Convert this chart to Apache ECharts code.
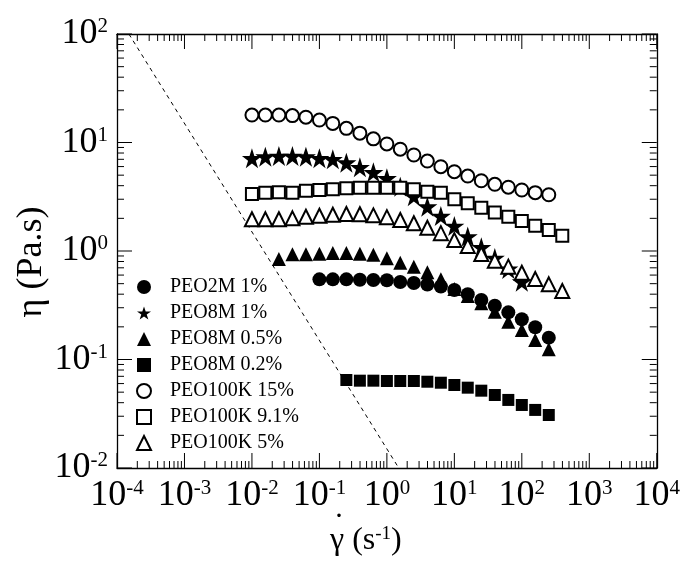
<!DOCTYPE html>
<html><head><meta charset="utf-8">
<script src="https://cdn.jsdelivr.net/npm/echarts@6/dist/echarts.min.js"></script>
<style>html,body{margin:0;padding:0;background:#fff}#c{width:683px;height:562px}</style>
</head><body><div id="c"></div><script>
// tick label exponents
const xTickExps = [-4, -3, -2, -1, 0, 1, 2, 3, 4];
const yTickExps = [-2, -1, 0, 1, 2];

// series names
const seriesNames = ['PEO2M 1%', 'PEO8M 1%', 'PEO8M 0.5%', 'PEO8M 0.2%', 'PEO100K 15%', 'PEO100K 9.1%', 'PEO100K 5%'];

// shear rates (1/s) and viscosities (Pa.s)
const rate_2M1 = [0.1, 0.158, 0.251, 0.398, 0.631, 1, 1.58, 2.51, 3.98, 6.31, 10, 15.8, 25.1, 39.8, 63.1, 100, 158, 251];
const eta_2M1 = [0.548, 0.548, 0.548, 0.544, 0.541, 0.537, 0.518, 0.507, 0.491, 0.471, 0.437, 0.399, 0.354, 0.313, 0.272, 0.235, 0.198, 0.159];

const rate_8M1 = [0.01, 0.0158, 0.0251, 0.0398, 0.0631, 0.1, 0.158, 0.251, 0.398, 0.631, 1, 1.58, 2.51, 3.98, 6.31, 10, 15.8, 25.1, 39.8, 63.1, 100];
const eta_8M1 = [7.15, 7.40, 7.51, 7.51, 7.40, 7.15, 7.0, 6.51, 5.91, 5.31, 4.68, 3.92, 3.19, 2.56, 2.10, 1.70, 1.36, 1.08, 0.862, 0.683, 0.521];

const rate_8M05 = [0.0251, 0.0398, 0.0631, 0.1, 0.158, 0.251, 0.398, 0.631, 1, 1.58, 2.51, 3.98, 6.31, 10, 15.8, 25.1, 39.8, 63.1, 100, 158, 251];
const eta_8M05 = [0.844, 0.933, 0.933, 0.945, 0.959, 0.959, 0.945, 0.925, 0.857, 0.780, 0.716, 0.637, 0.548, 0.447, 0.385, 0.330, 0.276, 0.223, 0.187, 0.151, 0.124];

const rate_8M02 = [0.251, 0.398, 0.631, 1, 1.58, 2.51, 3.98, 6.31, 10, 15.8, 25.1, 39.8, 63.1, 100, 158, 251];
const eta_8M02 = [0.0647, 0.0638, 0.0638, 0.0634, 0.0634, 0.0634, 0.0624, 0.0611, 0.0582, 0.0550, 0.0516, 0.0471, 0.0424, 0.0381, 0.0343, 0.0308];

const rate_100K15 = [0.01, 0.0158, 0.0251, 0.0398, 0.0631, 0.1, 0.158, 0.251, 0.398, 0.631, 1, 1.58, 2.51, 3.98, 6.31, 10, 15.8, 25.1, 39.8, 63.1, 100, 158, 251];
const eta_100K15 = [17.9, 17.9, 17.9, 17.7, 17.1, 16.1, 15.0, 13.5, 12.2, 10.8, 9.7, 8.67, 7.67, 6.75, 5.98, 5.38, 4.91, 4.44, 4.12, 3.87, 3.65, 3.45, 3.30];

const rate_100K91 = [0.01, 0.0158, 0.0251, 0.0398, 0.0631, 0.1, 0.158, 0.251, 0.398, 0.631, 1, 1.58, 2.51, 3.98, 6.31, 10, 15.8, 25.1, 39.8, 63.1, 100, 158, 251, 398];
const eta_100K91 = [3.35, 3.45, 3.48, 3.45, 3.60, 3.65, 3.70, 3.79, 3.83, 3.83, 3.83, 3.83, 3.70, 3.52, 3.45, 3.00, 2.75, 2.51, 2.26, 2.07, 1.89, 1.71, 1.56, 1.38];

const rate_100K5 = [0.01, 0.0158, 0.0251, 0.0398, 0.0631, 0.1, 0.158, 0.251, 0.398, 0.631, 1, 1.58, 2.51, 3.98, 6.31, 10, 15.8, 25.1, 39.8, 63.1, 100, 158, 251, 398];
const eta_100K5 = [1.96, 1.96, 1.96, 2.00, 2.07, 2.11, 2.16, 2.19, 2.18, 2.13, 2.05, 1.93, 1.80, 1.64, 1.46, 1.26, 1.11, 0.938, 0.814, 0.717, 0.631, 0.552, 0.493, 0.428];

// dashed guide line (slope -1)
const guideRate = [1.5e-4, 1.5];
const guideEta = [100, 0.01];

const FONT = 'Liberation Serif';
const STAR = 'path://M50,0 L61.8,35.1 L98.9,35.1 L68.9,56.8 L80.3,91.9 L50,70.2 L19.7,91.9 L31.1,56.8 L1.1,35.1 L38.2,35.1 Z';

const xMajor = xTickExps.map(e => Math.pow(10, e));
const yMajor = yTickExps.map(e => Math.pow(10, e));

// all tick positions (decades plus 2..9 inside each decade)
function tickVals(majors) {
  const out = [];
  for (let i = 0; i < majors.length; i++) {
    out.push(majors[i]);
    if (i < majors.length - 1) for (let k = 2; k <= 9; k++) out.push(k * majors[i]);
  }
  return out;
}
function isMajor(v, majors) { return majors.some(m => Math.abs(m - v) <= m * 1e-9); }

const labelRich = {
  b: { fontFamily: FONT, fontSize: 36, color: '#000', lineHeight: 36 },
  s: { fontFamily: FONT, fontSize: 21, color: '#000', verticalAlign: 'top', lineHeight: 26 }
};
const fmt = v => '{b|10}{s|' + Math.round(Math.log10(v)) + '}';

// frame axis (line + big labels on bottom/left)
function frameAxis(dim, pos, showLabel) {
  const ticks = dim === 'x' ? xMajor : yMajor;
  const a = {
    type: 'log', logBase: 10, position: pos,
    min: ticks[0], max: ticks[ticks.length - 1],
    axisLine: { show: true, onZero: false, lineStyle: { color: '#000', width: 1.3 } },
    axisTick: { show: false },
    minorTick: { show: false },
    axisLabel: { show: false },
    splitLine: { show: false }
  };
  if (showLabel) {
    a.axisLabel = { show: true, customValues: ticks, interval: 0, showMinLabel: true, showMaxLabel: true, hideOverlap: false,
      formatter: fmt, rich: labelRich, fontFamily: FONT, fontSize: 36, color: '#000', margin: dim === 'x' ? 10 : 9 };
  }
  return a;
}

// inward tick marks drawn as small filled label boxes placed by the axis scale
function tickAxis(dim, pos) {
  const majors = dim === 'x' ? xMajor : yMajor;
  const rich = dim === 'x'
    ? { M: { width: 1, height: 15, lineHeight: 15, fontSize: 1, backgroundColor: '#000', padding: 0 },
        m: { width: 1, height: 7, lineHeight: 7, fontSize: 1, backgroundColor: '#000', padding: 0 } }
    : { M: { width: 15, height: 1, lineHeight: 1, fontSize: 1, backgroundColor: '#000', padding: 0 },
        m: { width: 7, height: 1, lineHeight: 1, fontSize: 1, backgroundColor: '#000', padding: 0 } };
  return {
    type: 'log', logBase: 10, position: pos,
    min: majors[0], max: majors[majors.length - 1],
    axisLine: { show: false, onZero: false },
    axisTick: { show: false },
    minorTick: { show: false },
    splitLine: { show: false },
    axisLabel: {
      show: true, inside: true, margin: 0, customValues: tickVals(majors), interval: 0,
      showMinLabel: true, showMaxLabel: true, hideOverlap: false, padding: 0,
      fontSize: 1, color: 'rgba(0,0,0,0)',
      formatter: v => isMajor(v, majors) ? '{M| }' : '{m| }',
      rich: rich
    }
  };
}

function sc(name, x, y, symbol, size, open) {
  return {
    name: name, type: 'scatter', symbol: symbol, symbolSize: size,
    data: x.map((v, i) => [v, y[i]]),
    itemStyle: open ? { color: '#000', borderColor: '#000', borderWidth: 1.2, opacity: 1 } : { color: '#000', opacity: 1 },
    z: 3
  };
}

const chart = echarts.init(document.getElementById('c'));
chart.setOption({
  animation: false,
  grid: { left: 117, right: 24, top: 34, bottom: 94 },
  xAxis: [frameAxis('x', 'bottom', true), frameAxis('x', 'top', false), tickAxis('x', 'bottom'), tickAxis('x', 'top')],
  yAxis: [frameAxis('y', 'left', true), frameAxis('y', 'right', false), tickAxis('y', 'left'), tickAxis('y', 'right')],
  legend: {
    orient: 'vertical', left: 136, top: 277, padding: 0,
    itemWidth: 14, itemHeight: 14, itemGap: 6,
    data: seriesNames,
    textStyle: { fontFamily: FONT, fontSize: 20, color: '#000', lineHeight: 20, padding: [0, 0, 0, 14] }
  },
  graphic: [
    { type: 'text', x: 32, y: 262, rotation: Math.PI / 2,
      style: { text: 'η (Pa.s)', fontFamily: FONT, fontSize: 36, fill: '#000', align: 'center', verticalAlign: 'middle' } },
    { type: 'text', x: 330, y: 541,
      style: { text: 'γ (s{e|-1})', fontFamily: FONT, fontSize: 32, fill: '#000', align: 'left', verticalAlign: 'middle',
        rich: { e: { fontFamily: FONT, fontSize: 19, fill: '#000', verticalAlign: 'top', lineHeight: 24 } } } },
    { type: 'text', x: 339, y: 509,
      style: { text: '.', fontFamily: FONT, fontSize: 30, fill: '#000', align: 'center', verticalAlign: 'middle' } }
  ],
  series: [
    { name: 'guide', type: 'line', data: guideRate.map((v, i) => [v, guideEta[i]]), symbol: 'none',
      lineStyle: { color: '#000', width: 1, type: [4, 4] }, z: 2, silent: true },
    sc(seriesNames[0], rate_2M1, eta_2M1, 'circle', 14),
    sc(seriesNames[1], rate_8M1, eta_8M1, STAR, 20),
    sc(seriesNames[2], rate_8M05, eta_8M05, 'triangle', 14),
    sc(seriesNames[3], rate_8M02, eta_8M02, 'rect', 12),
    sc(seriesNames[4], rate_100K15, eta_100K15, 'emptyCircle', 13, true),
    sc(seriesNames[5], rate_100K91, eta_100K91, 'emptyRect', 12, true),
    sc(seriesNames[6], rate_100K5, eta_100K5, 'emptyTriangle', 14, true)
  ]
});
</script></body></html>
